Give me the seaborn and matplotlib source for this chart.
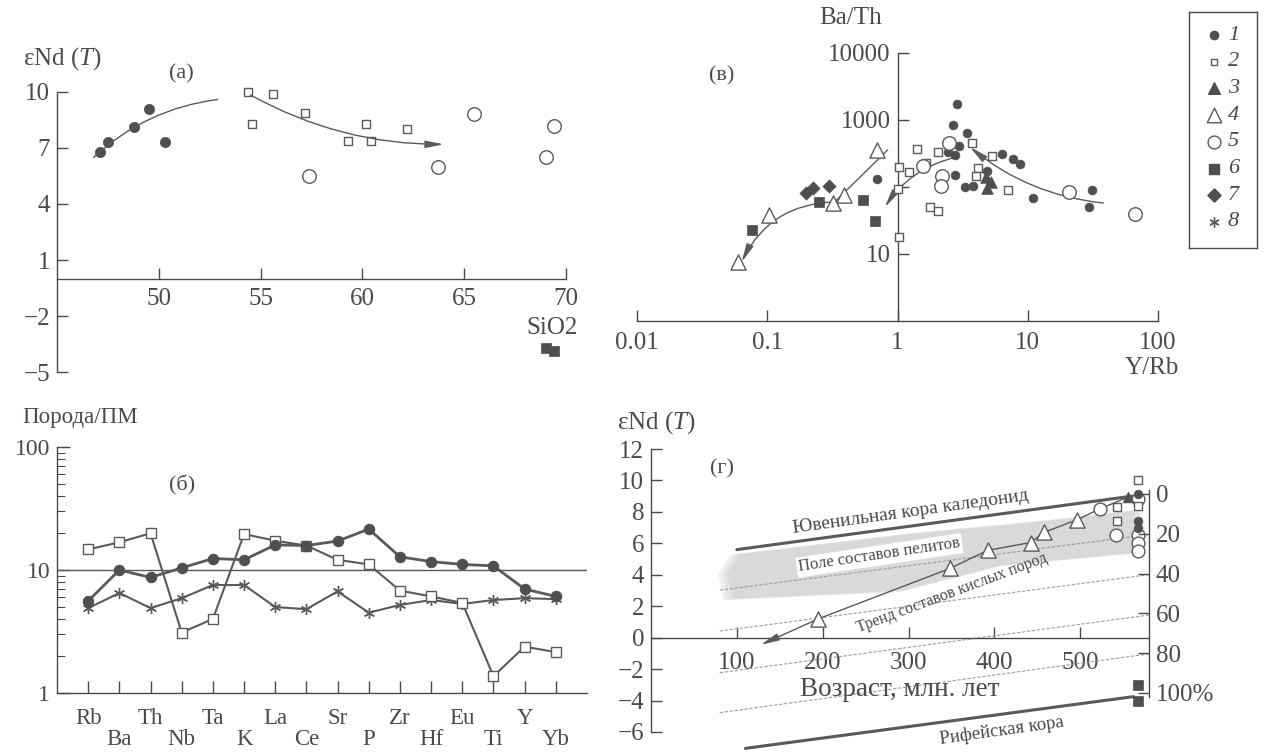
import numpy as np
import matplotlib
matplotlib.use("Agg")
import matplotlib.pyplot as plt
import seaborn as sns
from matplotlib.ticker import FixedLocator, LogLocator, NullFormatter

# ---------------- data ----------------
# (а) eNd(T) vs SiO2
a_g1_sio2 = [47.1, 47.5, 48.8, 49.5, 50.3]
a_g1_end = [6.8, 7.3, 8.1, 9.1, 7.3]
a_g2_sio2 = [54.4, 54.6, 55.6, 57.2, 59.3, 60.2, 60.4, 62.2]
a_g2_end = [10.0, 8.3, 9.9, 8.9, 7.4, 8.3, 7.4, 8.0]
a_g5_sio2 = [57.4, 63.7, 65.5, 69.0, 69.4]
a_g5_end = [5.5, 6.0, 8.8, 6.5, 8.2]
a_g6_sio2 = [69.0, 69.4]
a_g6_end = [-3.7, -3.9]
a_xticks = [50, 55, 60, 65, 70]
a_yticks = [10, 7, 4, 1, -2, -5]
a_trend1 = [(46.8, 6.5), (52.9, 9.6)]
a_trend2 = [(54.5, 9.84), (64.0, 7.2)]

# (в) Ba/Th vs Y/Rb
b1_x = [2.86, 2.66, 3.41, 2.96, 2.44, 2.76, 2.76, 3.29, 3.79, 4.86, 6.35, 7.7, 8.7, 11.0, 31.2, 29.6, 0.69]
b1_y = [1740, 840, 640, 410, 330, 300, 150, 100, 103, 173, 309, 262, 220, 68, 90, 50, 132]
b2_x = [1.02, 1.0, 1.02, 1.22, 1.41, 1.65, 1.77, 2.04, 2.04, 3.73, 4.15, 4.0, 5.3, 7.05]
b2_y = [199, 93, 18, 167, 369, 228, 50, 44, 333, 454, 192, 146, 290, 90]
b3_x = [4.8, 5.2, 4.9]
b3_y = [140, 120, 98]
b4_x = [0.69, 0.386, 0.318, 0.104, 0.06]
b4_y = [357, 76, 58, 38, 7.6]
b5_x = [2.48, 1.57, 2.19, 2.15, 20.8, 66.9]
b5_y = [454, 206, 146, 103, 84, 39.5]
b6_x = [0.077, 0.248, 0.54, 0.67]
b6_y = [22.8, 59.7, 64, 31]
b7_x = [0.197, 0.224, 0.296]
b7_y = [81, 97, 103]
b_xticks = [0.01, 0.1, 1, 10, 100]
b_xlabels = ["0.01", "0.1", "1", "10", "100"]
b_yticks = [10, 100, 1000, 10000]
b_ylabels = ["10", "", "1000", "10000"]
b_trend_line = [(0.84, 357), (0.33, 60)]
b_trend_arc = [(0.33, 60), (0.0636, 7.6)]
b_trend2 = [(2.86, 281), (0.8, 50)]
b_trend3 = [(38, 57.6), (3.6, 395)]

# (б) spider diagram
elements = ["Rb", "Ba", "Th", "Nb", "Ta", "K", "La", "Ce",
            "Sr", "P", "Zr", "Hf", "Eu", "Ti", "Y", "Yb"]
spider_1 = [5.6, 10.0, 8.7, 10.4, 12.4, 12.1, 16.0, 15.8,
            17.2, 21.5, 12.8, 11.7, 11.1, 10.8, 7.0, 6.1]
spider_2 = [14.7, 16.8, 19.9, 3.1, 4.0, 19.6, 17.3, 15.8,
            12.1, 11.1, 6.8, 6.1, 5.4, 1.37, 2.38, 2.15]
spider_8 = [4.9, 6.5, 4.9, 5.9, 7.55, 7.55, 5.0, 4.8,
            6.7, 4.5, 5.2, 5.7, 5.3, 5.7, 5.9, 5.8]

# (г) eNd(T) vs age
d_tri_age = [195, 348, 392, 442, 458, 496]
d_tri_eps = [1.2, 4.4, 5.55, 6.05, 6.7, 7.5]
d_circ_age = [523, 542, 567, 567, 567, 567]
d_circ_eps = [8.2, 6.55, 8.8, 6.55, 6.0, 5.5]
d_sq_age = [567, 567, 543, 543]
d_sq_eps = [10.0, 8.4, 8.3, 7.45]
d_ftri_age = [556]
d_ftri_eps = [8.95]
d_fcirc_age = [567, 567, 567]
d_fcirc_eps = [9.15, 7.4, 7.0]
d_fsq_age = [567, 567]
d_fsq_eps = [-3.0, -4.05]
d_trend_age = [556, 523, 496, 458, 442, 392, 348, 195]
d_trend_eps = [8.95, 8.2, 7.5, 6.7, 6.05, 5.55, 4.4, 1.2]
d_arrow = [(195, 1.2), (128, -0.45)]
juv_age = [100, 560]
juv_eps = [5.6, 9.0]
rif_age = [110, 562]
rif_eps = [-7.04, -3.75]
mix_age = [80, 580]
mix_eps = [[3.02, 6.56], [0.42, 4.01], [-2.23, 1.44], [-4.77, -1.03]]
field_age = [90, 104, 305, 450, 562, 566, 562, 407, 291, 96]
field_eps = [4.1, 5.3, 6.6, 7.35, 8.05, 6.8, 5.4, 4.6, 3.0, 2.5]
d_xticks = [100, 200, 300, 400, 500]
d_yticks = [12, 10, 8, 6, 4, 2, 0, -2, -4, -6]
pct_ticks = [0, 20, 40, 60, 80, 100]
pct_labels = ["0", "20", "40", "60", "80", "100%"]

legend_labels = ["1", "2", "3", "4", "5", "6", "7", "8"]

# ---------------- style ----------------
TXT = "#4a4a4a"
DARK = "#4f4f4f"
LINE = "#5a5a5a"

sns.set_style("ticks")
plt.rcParams["font.family"] = ["Liberation Serif", "DejaVu Serif"]
plt.rcParams["mathtext.fontset"] = "custom"
plt.rcParams["mathtext.rm"] = "Liberation Serif"
plt.rcParams["mathtext.it"] = "Liberation Serif:italic"
plt.rcParams["text.color"] = TXT
plt.rcParams["axes.edgecolor"] = TXT
plt.rcParams["axes.linewidth"] = 1.0
plt.rcParams["xtick.color"] = TXT
plt.rcParams["ytick.color"] = TXT

W, H = 1265, 752
fig = plt.figure(figsize=(W / 100, H / 100), dpi=100)


def rect(x0, yt, x1, yb):
    return [x0 / W, 1 - yb / H, (x1 - x0) / W, (yb - yt) / H]


def fx(x):
    return x / W


def fy(y):
    return 1 - y / H


def style_ticks(ax, size=18):
    ax.tick_params(axis="both", which="major", direction="in", length=8,
                   width=1, labelsize=size, colors=TXT, pad=5)
    for s in ["top", "right"]:
        ax.spines[s].set_visible(False)


def arc(ax, p_from, p_to, rad, head=True):
    style = "-|>,head_length=1.1,head_width=0.22" if head else "-"
    ax.annotate("", xy=p_to, xytext=p_from,
                arrowprops=dict(arrowstyle=style, color=LINE, lw=1.0,
                                connectionstyle=f"arc3,rad={rad}",
                                shrinkA=0, shrinkB=0, mutation_scale=10))


# ---------------- (а) ----------------
axA = fig.add_axes(rect(57, 92, 566, 372))
sns.scatterplot(x=a_g1_sio2, y=a_g1_end, ax=axA, marker="o", s=55,
                color=DARK, edgecolor=DARK, linewidth=0.5, zorder=3, clip_on=False)
sns.scatterplot(x=a_g2_sio2, y=a_g2_end, ax=axA, marker="s", s=28,
                color="white", edgecolor=LINE, linewidth=1.0, zorder=3, clip_on=False)
sns.scatterplot(x=a_g5_sio2, y=a_g5_end, ax=axA, marker="o", s=95,
                color="white", edgecolor=LINE, linewidth=1.0, zorder=3, clip_on=False)
sns.scatterplot(x=a_g6_sio2, y=a_g6_end, ax=axA, marker="s", s=45,
                color=DARK, edgecolor=DARK, linewidth=0.5, zorder=3, clip_on=False)
arc(axA, a_trend1[0], a_trend1[1], -0.16, head=False)
arc(axA, a_trend2[0], a_trend2[1], 0.13)
axA.set_xlim(45, 70)
axA.set_ylim(-5, 10)
style_ticks(axA)
axA.spines["bottom"].set_position(("data", 0))
axA.set_xticks(a_xticks)
axA.set_yticks(a_yticks)
axA.set_yticklabels([f"{v}".replace("-", "\u2212") for v in a_yticks])
axA.tick_params(axis="x", pad=7)
fig.text(fx(62), fy(59), r"εNd ($T$)", ha="center", va="center", fontsize=18)
fig.text(fx(181), fy(74), "(а)", ha="center", va="center", fontsize=16)
fig.text(fx(552), fy(328), "SiO2", ha="center", va="center", fontsize=18)

# ---------------- (в) ----------------
axB = fig.add_axes(rect(637, 53, 1158, 321))
axB.set_xscale("log")
axB.set_yscale("log")
axB.plot([p[0] for p in b_trend_line], [p[1] for p in b_trend_line],
         color=LINE, lw=1.0, zorder=2)
arc(axB, b_trend_arc[0], b_trend_arc[1], 0.3)
arc(axB, b_trend2[0], b_trend2[1], 0.2)
arc(axB, b_trend3[0], b_trend3[1], -0.15)
sns.scatterplot(x=b2_x, y=b2_y, ax=axB, marker="s", s=26, color="white",
                edgecolor=LINE, linewidth=1.0, zorder=3)
sns.scatterplot(x=b1_x, y=b1_y, ax=axB, marker="o", s=40, color=DARK,
                edgecolor=DARK, linewidth=0.5, zorder=4)
sns.scatterplot(x=b5_x, y=b5_y, ax=axB, marker="o", s=95, color="white",
                edgecolor=LINE, linewidth=1.0, zorder=4)
sns.scatterplot(x=b3_x, y=b3_y, ax=axB, marker="^", s=70, color=DARK,
                edgecolor=DARK, linewidth=0.5, zorder=5)
sns.scatterplot(x=b4_x, y=b4_y, ax=axB, marker="^", s=120, color="white",
                edgecolor=LINE, linewidth=1.0, zorder=4)
sns.scatterplot(x=b6_x, y=b6_y, ax=axB, marker="s", s=55, color=DARK,
                edgecolor=DARK, linewidth=0.5, zorder=4)
sns.scatterplot(x=b7_x, y=b7_y, ax=axB, marker="D", s=45, color=DARK,
                edgecolor=DARK, linewidth=0.5, zorder=4)
axB.set_xlim(0.01, 100)
axB.set_ylim(1, 10000)
style_ticks(axB)
axB.spines["left"].set_position(("data", 1))
axB.xaxis.set_major_locator(FixedLocator(b_xticks))
axB.xaxis.set_minor_locator(FixedLocator([]))
axB.set_xticklabels(b_xlabels)
axB.yaxis.set_major_locator(FixedLocator(b_yticks))
axB.yaxis.set_minor_locator(FixedLocator([]))
axB.set_yticklabels(b_ylabels)
axB.tick_params(axis="x", pad=8)
fig.text(fx(851), fy(18), "Ba/Th", ha="center", va="center", fontsize=18)
fig.text(fx(722), fy(76), "(в)", ha="center", va="center", fontsize=16)
fig.text(fx(1152), fy(368), "Y/Rb", ha="center", va="center", fontsize=18)

# ---------------- (б) ----------------
axC = fig.add_axes(rect(57, 447, 587, 693))
axC.set_yscale("log")
idx = np.arange(len(elements))
axC.axhline(10, color=LINE, lw=1.0, zorder=1)
sns.lineplot(x=idx, y=spider_8, ax=axC, color=LINE, lw=1.5, marker=(6, 2, 0),
             markersize=8, markeredgecolor=LINE, markeredgewidth=1.0, zorder=2)
sns.lineplot(x=idx, y=spider_2, ax=axC, color=LINE, lw=1.5, marker="s",
             markersize=6.5, markerfacecolor="white", markeredgecolor=LINE,
             markeredgewidth=1.0, zorder=3)
sns.lineplot(x=idx, y=spider_1, ax=axC, color=LINE, lw=2.0, marker="o",
             markersize=7.5, markerfacecolor=DARK, markeredgecolor=DARK, zorder=4)
axC.set_xlim(-1, 16)
axC.set_ylim(1, 100)
style_ticks(axC, size=16)
axC.set_xticks(idx[0::2], labels=elements[0::2])
axC.set_xticks(idx[1::2], labels=elements[1::2], minor=True)
axC.tick_params(axis="x", which="both", direction="in", length=9, width=1,
                labelsize=16.5, colors=TXT)
axC.tick_params(axis="x", which="major", pad=11)
axC.tick_params(axis="x", which="minor", pad=26)
axC.yaxis.set_major_locator(FixedLocator([1, 10, 100]))
axC.set_yticklabels(["1", "10", "100"])
axC.yaxis.set_minor_locator(LogLocator(base=10, subs=np.arange(2, 10)))
axC.yaxis.set_minor_formatter(NullFormatter())
axC.tick_params(axis="y", which="major", labelsize=17, length=9)
axC.tick_params(axis="y", which="minor", direction="in", length=6, width=0.8,
                colors=TXT)
fig.text(fx(80), fy(418), "Порода/ПМ", ha="center", va="center", fontsize=16.5)
fig.text(fx(182), fy(485), "(б)", ha="center", va="center", fontsize=16)

# ---------------- (г) ----------------
axD = fig.add_axes(rect(651, 449, 1149, 732))
cx, cy = np.mean(field_age), np.mean(field_eps)
for k, col in enumerate(["#eeeeee", "#e4e4e4", "#d9d9d9"]):
    f = 1.045 - 0.02 * k
    axD.fill([cx + (a - cx) * f for a in field_age],
             [cy + (e - cy) * f for e in field_eps],
             color=col, lw=0, zorder=0)
for ys in mix_eps:
    axD.plot(mix_age, ys, color="#9c9c9c", lw=0.8, ls=(0, (3, 1.5)), zorder=1)
sns.lineplot(x=juv_age, y=juv_eps, ax=axD, color=LINE, lw=2.2, zorder=2)
sns.lineplot(x=rif_age, y=rif_eps, ax=axD, color=LINE, lw=2.2, zorder=2,
             clip_on=False)
sns.lineplot(x=d_trend_age, y=d_trend_eps, ax=axD, sort=False, estimator=None,
             color=LINE, lw=1.0, zorder=2)
arc(axD, d_arrow[0], d_arrow[1], 0.0)
sns.scatterplot(x=d_tri_age, y=d_tri_eps, ax=axD, marker="^", s=120,
                color="white", edgecolor=LINE, linewidth=1.0, zorder=4, clip_on=False)
sns.scatterplot(x=d_circ_age, y=d_circ_eps, ax=axD, marker="o", s=85,
                color="white", edgecolor=LINE, linewidth=1.0, zorder=4, clip_on=False)
sns.scatterplot(x=d_sq_age, y=d_sq_eps, ax=axD, marker="s", s=26,
                color="white", edgecolor=LINE, linewidth=1.0, zorder=5, clip_on=False)
sns.scatterplot(x=d_ftri_age, y=d_ftri_eps, ax=axD, marker="^", s=60,
                color=DARK, edgecolor=DARK, linewidth=0.5, zorder=5, clip_on=False)
sns.scatterplot(x=d_fcirc_age, y=d_fcirc_eps, ax=axD, marker="o", s=38,
                color=DARK, edgecolor=DARK, linewidth=0.5, zorder=6, clip_on=False)
sns.scatterplot(x=d_fsq_age, y=d_fsq_eps, ax=axD, marker="s", s=55,
                color=DARK, edgecolor=DARK, linewidth=0.5, zorder=6, clip_on=False)
axD.set_xlim(0, 580)
axD.set_ylim(-6, 12)
style_ticks(axD)
axD.spines["bottom"].set_position(("data", 0))
axD.set_xticks(d_xticks)
axD.set_yticks(d_yticks)
axD.set_yticklabels([f"{v}".replace("-", "\u2212") for v in d_yticks])
axD.tick_params(axis="x", pad=10)
axD.text(302, 8.0, "Ювенильная кора каледонид", rotation=8, fontsize=14,
         ha="center", va="center", rotation_mode="anchor")
axD.text(266, 5.23, "Поле составов пелитов", rotation=8.5, fontsize=12,
         ha="center", va="center", rotation_mode="anchor",
         bbox=dict(facecolor="white", edgecolor="none", pad=1.5))
axD.text(350, 2.85, "Тренд составов кислых пород", rotation=20.5, fontsize=11.5,
         ha="center", va="center", rotation_mode="anchor")
axD.text(408, -5.9, "Рифейская кора", rotation=8, fontsize=13.5,
         ha="center", va="center", rotation_mode="anchor", clip_on=False)

axR = axD.twinx()
axR.set_ylim(119.6, -22.6)
for s in ["top", "left", "bottom"]:
    axR.spines[s].set_visible(False)
axR.spines["right"].set_bounds(-2, 102)
axR.set_yticks(pct_ticks)
axR.set_yticklabels(pct_labels)
axR.tick_params(axis="y", direction="in", length=8, width=1, labelsize=18,
                colors=TXT, pad=5)
fig.text(fx(656), fy(423), r"εNd ($T$)", ha="center", va="center", fontsize=18)
fig.text(fx(722), fy(469), "(г)", ha="center", va="center", fontsize=16)
fig.text(fx(900), fy(690), "Возраст, млн. лет", ha="center", va="center",
         fontsize=19.5)

# ---------------- legend ----------------
axL = fig.add_axes(rect(1189, 12, 1257, 248))
axL.set_xlim(0, 68)
axL.set_ylim(236, 0)
axL.set_xticks([])
axL.set_yticks([])
for s in axL.spines.values():
    s.set_visible(True)
    s.set_color(TXT)
    s.set_linewidth(1.0)
leg_specs = [
    dict(marker="o", s=36, color=DARK, edgecolor=DARK),
    dict(marker="s", s=24, color="white", edgecolor=LINE),
    dict(marker="^", s=70, color=DARK, edgecolor=DARK),
    dict(marker="^", s=110, color="white", edgecolor=LINE),
    dict(marker="o", s=85, color="white", edgecolor=LINE),
    dict(marker="s", s=55, color=DARK, edgecolor=DARK),
    dict(marker="D", s=45, color=DARK, edgecolor=DARK),
    dict(marker=(6, 2, 0), s=45, color=LINE, edgecolor=LINE),
]
for i, (lab, spec) in enumerate(zip(legend_labels, leg_specs)):
    yy = 23 + i * 26.7
    sns.scatterplot(x=[25], y=[yy], ax=axL, linewidth=1.0, **spec)
    axL.text(39, yy, lab, fontsize=16, style="italic", ha="left", va="center")

fig.savefig("out.png", dpi=100)
